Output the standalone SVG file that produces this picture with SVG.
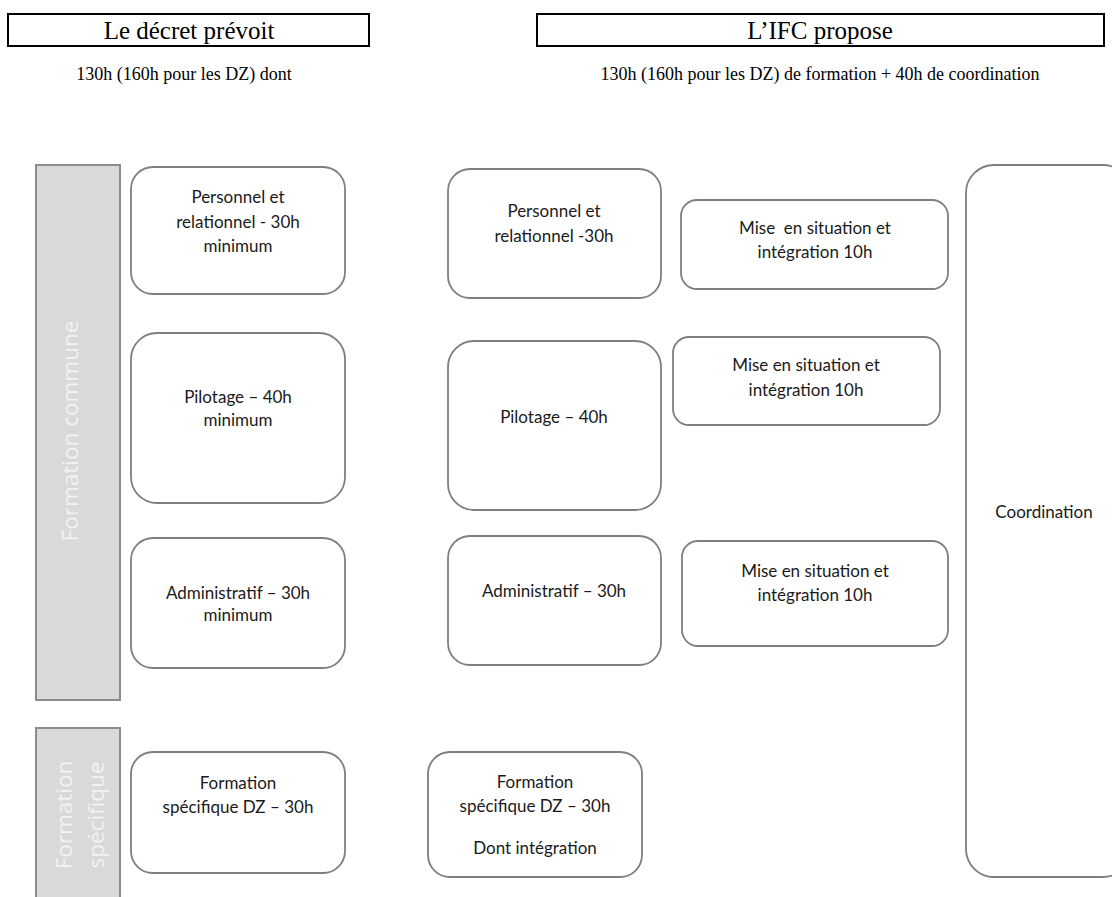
<svg xmlns="http://www.w3.org/2000/svg" width="1112" height="897" viewBox="0 0 1112 897">
<style>
.hdr{fill:#fff;stroke:#000;stroke-width:2}
.ht{font-family:"Liberation Serif",serif;font-size:25px;fill:#000;text-anchor:middle}
.st{font-family:"Liberation Serif",serif;font-size:18px;fill:#000;text-anchor:middle}
.box{fill:#fff;stroke:#7f7f7f;stroke-width:1.8}
.bar{fill:#d9d9d9;stroke:#8c8c8c;stroke-width:2}
.bt{font-family:Lato,"Open Sans",sans-serif;font-size:17px;fill:#1a1a1a;text-anchor:middle}
.vt{font-family:"Open Sans",Lato,sans-serif;font-size:22.5px;fill:#f2f2f2;text-anchor:middle}
</style>
<rect width="1112" height="897" fill="#fff"/>
<g id="header-left">
<rect class="hdr" x="8" y="14" width="361" height="32"/>
<text class="ht" x="189" y="39">Le décret prévoit</text>
<text class="st" x="184" y="80">130h (160h pour les DZ) dont</text>
</g>
<g id="header-right">
<rect class="hdr" x="537" y="14" width="567" height="32"/>
<text class="ht" x="820" y="39">L’IFC propose</text>
<text class="st" x="820" y="80">130h (160h pour les DZ) de formation + 40h de coordination</text>
</g>
<g id="bar-commune">
<rect class="bar" x="36" y="165" width="84" height="535"/>
<text class="vt" transform="translate(78,431) rotate(-90)">Formation commune</text>
</g>
<g id="bar-specifique">
<rect class="bar" x="36" y="728" width="84" height="180"/>
<text class="vt" transform="translate(72,815) rotate(-90)">Formation</text>
<text class="vt" transform="translate(104,815) rotate(-90)">spécifique</text>
</g>
<g id="d-personnel">
<rect class="box" x="131" y="167" width="214" height="127" rx="22"/>
<text class="bt" x="238" y="203">Personnel et</text>
<text class="bt" x="238" y="228">relationnel - 30h</text>
<text class="bt" x="238" y="252">minimum</text>
</g>
<g id="d-pilotage">
<rect class="box" x="131" y="333" width="214" height="170" rx="26"/>
<text class="bt" x="238" y="403">Pilotage – 40h</text>
<text class="bt" x="238" y="426">minimum</text>
</g>
<g id="d-admin">
<rect class="box" x="131" y="538" width="214" height="130" rx="22"/>
<text class="bt" x="238" y="599">Administratif – 30h</text>
<text class="bt" x="238" y="621">minimum</text>
</g>
<g id="d-specifique">
<rect class="box" x="131" y="752" width="214" height="121" rx="22"/>
<text class="bt" x="238" y="789">Formation</text>
<text class="bt" x="238" y="813">spécifique DZ – 30h</text>
</g>
<g id="i-personnel">
<rect class="box" x="448" y="169" width="213" height="129" rx="22"/>
<text class="bt" x="554" y="217">Personnel et</text>
<text class="bt" x="554" y="242">relationnel -30h</text>
</g>
<g id="i-mise1">
<rect class="box" x="681" y="200" width="267" height="89" rx="16"/>
<text class="bt" x="815" y="234" xml:space="preserve">Mise  en situation et</text>
<text class="bt" x="815" y="258">intégration 10h</text>
</g>
<g id="i-pilotage">
<rect class="box" x="448" y="341" width="213" height="169" rx="26"/>
<text class="bt" x="554" y="423">Pilotage – 40h</text>
</g>
<g id="i-mise2">
<rect class="box" x="673" y="337" width="267" height="88" rx="16"/>
<text class="bt" x="806" y="371">Mise en situation et</text>
<text class="bt" x="806" y="396">intégration 10h</text>
</g>
<g id="i-admin">
<rect class="box" x="448" y="536" width="213" height="129" rx="22"/>
<text class="bt" x="554" y="597">Administratif – 30h</text>
</g>
<g id="i-mise3">
<rect class="box" x="682" y="541" width="266" height="105" rx="16"/>
<text class="bt" x="815" y="577">Mise en situation et</text>
<text class="bt" x="815" y="601">intégration 10h</text>
</g>
<g id="i-specifique">
<rect class="box" x="428" y="752" width="214" height="125" rx="22"/>
<text class="bt" x="535" y="788">Formation</text>
<text class="bt" x="535" y="812">spécifique DZ – 30h</text>
<text class="bt" x="535" y="854">Dont intégration</text>
</g>
<g id="coordination">
<rect class="box" x="966" y="165" width="165" height="712" rx="28"/>
<text class="bt" x="1044" y="518">Coordination</text>
</g>
<g id="connectors"></g>
</svg>
